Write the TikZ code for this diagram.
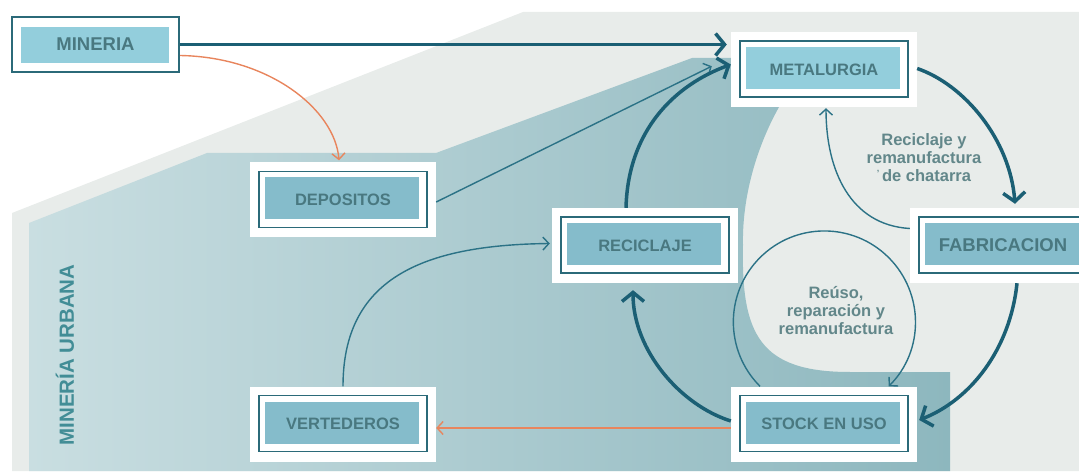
\documentclass[tikz,border=0pt]{standalone}
\usepackage{fontspec}
\setmainfont{Liberation Sans}
\usetikzlibrary{arrows.meta}
\definecolor{bggray}{HTML}{E8ECEA}
\definecolor{tealL}{HTML}{C9DEE1}
\definecolor{tealR}{HTML}{8DB7BE}
\definecolor{bordc}{HTML}{2B6A79}
\definecolor{fillA}{HTML}{93CEDC}
\definecolor{fillB}{HTML}{85BCCB}
\definecolor{txtc}{HTML}{497880}
\definecolor{lblc}{HTML}{62878A}
\definecolor{urbc}{HTML}{428D96}
\definecolor{darkar}{HTML}{1B5F74}
\definecolor{thinc}{HTML}{2B7286}
\definecolor{orng}{HTML}{E8855D}
\begin{document}
\begin{tikzpicture}[x=1pt,y=-1pt,
  box/.style={rectangle, fill=white, inner sep=0pt, minimum width=186pt, minimum height=75pt,
    text=txtc, font=\bfseries\fontsize{16.5}{18}\selectfont,
    path picture={
      \draw[bordc,line width=1.6pt] ([xshift=9pt,yshift=-9pt]path picture bounding box.north west) rectangle ([xshift=-9pt,yshift=10pt]path picture bounding box.south east);
      \fill[#1] ([xshift=15pt,yshift=-15pt]path picture bounding box.north west) rectangle ([xshift=-17pt,yshift=18pt]path picture bounding box.south east);}},
  topbox/.style={rectangle, fill=white, draw=bordc, line width=2pt, inner sep=0pt, minimum width=167pt, minimum height=55pt,
    text=txtc, font=\bfseries\fontsize{18.5}{20}\selectfont,
    path picture={
      \fill[fillA] ([xshift=9pt,yshift=-10pt]path picture bounding box.north west) rectangle ([xshift=-10pt,yshift=9pt]path picture bounding box.south east);}},
  thickar/.style={draw=darkar, line width=3.5pt, -{Straight Barb[length=9pt,width=22pt]}},
  thinar/.style={draw=thinc, line width=1.4pt, -{Straight Barb[length=6pt,width=13pt]}},
  orar/.style={draw=orng, line width=1.4pt, -{Straight Barb[length=6pt,width=13pt]}},
  lbl/.style={text=lblc, align=center, font=\bfseries\fontsize{16.5}{18}\selectfont}
]
\useasboundingbox (0,0) rectangle (1079,473);
\clip (0,0) rectangle (1079,473);
% background
\fill[bggray] (12,213) -- (523,12) -- (1079,12) -- (1079,471) -- (12,471) -- cycle;
\shade[left color=tealL, right color=tealR] (29,223) -- (207,153) -- (436,153) -- (692,58) -- (745,58) -- (779,107)
  .. controls (755,150) and (742,200) .. (743,245)
  .. controls (741,335) and (760,372) .. (850,372) -- (950,372) -- (950,471) -- (29,471) -- cycle;
% boxes
\node[topbox] (min) at (95.5,44.5) {MINERIA};
\node[box=fillA] (met) at (824,69.5) {METALURGIA};
\node[box=fillB] (dep) at (343,200) {DEPOSITOS};
\node[box=fillB] (rec) at (645,245.5) {RECICLAJE};
\node[box=fillB, font=\bfseries\fontsize{18.5}{20}\selectfont] (fab) at (1003,245.5) {FABRICACION};
\node[box=fillB] (stock) at (824,424) {STOCK EN USO};
\node[box=fillB] (vert) at (343,424) {VERTEDEROS};
% texts
\node[rotate=90, text=urbc, font=\bfseries\fontsize{20.5}{22}\selectfont] (urb) at (65,355) {MINERÍA URBANA};
\node[lbl] (l1) at (924,158) {Reciclaje y\\remanufactura\\\raisebox{5pt}{\fontsize{9}{9}\selectfont'}\,de chatarra};
\node[lbl] (l2) at (836,311) {Reúso,\\reparación y\\remanufactura};
% connectors
\draw[thickar] (min.east) -- ([xshift=-4pt]min.east -| met.west);
\draw[orar] ([yshift=-11pt]min.east) .. controls (270,57) and (335,110) .. ([xshift=-4pt,yshift=2pt]dep.north);
\draw[thinar] ([yshift=-2pt]dep.east) -- ([shift={(-19pt,41pt)}]met.south west);
\draw[thickar] ([xshift=-19pt]rec.north) .. controls (628,130) and (675,85) .. ([yshift=5pt]met.west);
\draw[thickar] ([yshift=1pt]met.east) .. controls (965,85) and (1010,140) .. ([xshift=12pt,yshift=4pt]fab.north);
\draw[thinar] ([yshift=17pt]fab.west) .. controls (850,225) and (826,170) .. ([xshift=2pt,yshift=-1pt]met.south);
\draw[thickar] ([xshift=14pt]fab.south) .. controls (1010,350) and (970,400) .. ([xshift=2pt,yshift=4pt]stock.east);
\draw[thinar] ([xshift=-64pt]stock.north) arc[start angle=225, end angle=-45, radius=91pt];
\draw[thickar] ([yshift=3pt]stock.west) .. controls (680,405) and (633,350) .. ([xshift=-12pt,yshift=-7pt]rec.south);
\draw[orar] ([yshift=-4pt]stock.west) -- ([yshift=-4pt]vert.east);
\draw[thinar] (vert.north) .. controls (343,280) and (420,245) .. ([xshift=-2pt,yshift=2pt]rec.west);
\end{tikzpicture}
\end{document}
